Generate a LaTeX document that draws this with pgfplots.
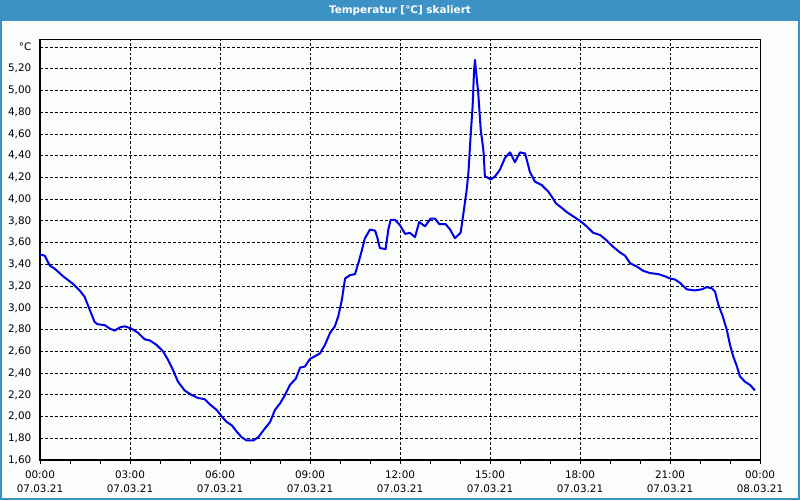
\documentclass[border=0pt]{standalone}
\usepackage{pgfplots}
\pgfplotsset{compat=1.18}
\usepackage{fontspec}
\setmainfont{DejaVu Sans}
\definecolor{framebl}{RGB}{60,146,196}
\definecolor{bgc}{RGB}{251,253,251}
\definecolor{curve}{RGB}{0,0,235}
\pgfplotstableread{
h v
0 3.49
0.16 3.48
0.32 3.39
0.49 3.36
0.77 3.29
1.1 3.22
1.32 3.16
1.49 3.10
1.66 2.98
1.82 2.87
1.91 2.85
2.16 2.84
2.32 2.81
2.49 2.79
2.66 2.82
2.82 2.83
3.04 2.81
3.27 2.77
3.49 2.71
3.66 2.70
3.88 2.66
4.1 2.60
4.27 2.52
4.43 2.43
4.6 2.32
4.82 2.24
5.04 2.20
5.27 2.17
5.49 2.16
5.67 2.11
5.89 2.06
6.06 2.00
6.22 1.95
6.39 1.92
6.56 1.86
6.72 1.81
6.89 1.78
7.11 1.78
7.28 1.81
7.44 1.87
7.67 1.95
7.83 2.06
8.0 2.12
8.17 2.20
8.33 2.29
8.53 2.35
8.67 2.45
8.83 2.46
9.0 2.53
9.33 2.58
9.5 2.66
9.67 2.77
9.83 2.83
9.94 2.92
10.06 3.07
10.17 3.27
10.33 3.30
10.5 3.31
10.61 3.41
10.72 3.52
10.83 3.64
11.0 3.72
11.17 3.71
11.24 3.65
11.33 3.55
11.52 3.54
11.61 3.72
11.69 3.81
11.83 3.81
12.0 3.76
12.17 3.68
12.33 3.69
12.5 3.65
12.64 3.79
12.83 3.75
13.02 3.82
13.17 3.82
13.31 3.77
13.52 3.77
13.67 3.72
13.83 3.64
14.02 3.69
14.13 3.90
14.22 4.08
14.28 4.24
14.36 4.61
14.42 4.85
14.47 5.19
14.5 5.28
14.54 5.16
14.61 4.97
14.69 4.64
14.78 4.45
14.83 4.21
14.91 4.20
15.02 4.18
15.17 4.21
15.33 4.27
15.5 4.38
15.67 4.43
15.83 4.34
16.0 4.43
16.17 4.42
16.33 4.25
16.5 4.16
16.72 4.13
16.94 4.07
17.09 4.01
17.2 3.96
17.39 3.92
17.56 3.88
17.78 3.84
18.0 3.80
18.22 3.75
18.44 3.69
18.67 3.67
18.89 3.62
19.11 3.56
19.33 3.51
19.5 3.48
19.67 3.41
19.89 3.38
20.11 3.34
20.33 3.32
20.61 3.31
20.83 3.29
21.0 3.27
21.17 3.26
21.33 3.23
21.56 3.17
21.83 3.16
22.06 3.17
22.22 3.19
22.39 3.18
22.5 3.15
22.61 3.03
22.76 2.92
22.89 2.80
23.0 2.66
23.11 2.55
23.22 2.47
23.33 2.37
23.5 2.32
23.67 2.29
23.83 2.24
}\temps
\begin{document}
\begin{tikzpicture}
\useasboundingbox (0,0) rectangle (600pt,375pt);
\fill[bgc] (0,0) rectangle (600pt,375pt);
\fill[framebl] (0,359.25pt) rectangle (600pt,375pt);
\draw[framebl, line width=1.5pt] (0.75pt,0.75pt) rectangle (599.25pt,374.25pt);
\node[text=white, font=\bfseries\fontsize{7.8}{9}\selectfont] at (300pt,367.3pt) {Temperatur [°C] skaliert};
\begin{axis}[
  at={(30pt,30pt)}, anchor=south west,
  scale only axis, width=540pt, height=315pt,
  xmin=0, xmax=24, ymin=1.6, ymax=5.464,
  axis background/.style={fill=bgc},
  axis line style={black, line width=0.75pt},
  xtick={0,3,...,24},
  minor xtick={1,2,4,5,7,8,10,11,13,14,16,17,19,20,22,23},
  xticklabels={{00:00\\07.03.21},{03:00\\07.03.21},{06:00\\07.03.21},{09:00\\07.03.21},{12:00\\07.03.21},{15:00\\07.03.21},{18:00\\07.03.21},{21:00\\07.03.21},{00:00\\08.03.21}},
  xticklabel style={align=center, font=\fontsize{7.8}{10.5}\selectfont, yshift=-1.8pt},
  ytick={1.6,1.8,2.0,2.2,2.4,2.6,2.8,3.0,3.2,3.4,3.6,3.8,4.0,4.2,4.4,4.6,4.8,5.0,5.2,5.4},
  yticklabels={{1,60},{1,80},{2,00},{2,20},{2,40},{2,60},{2,80},{3,00},{3,20},{3,40},{3,60},{3,80},{4,00},{4,20},{4,40},{4,60},{4,80},{5,00},{5,20},{°C}},
  yticklabel style={font=\fontsize{7.8}{9}\selectfont},
  tick align=outside,
  x tick style={black, line width=0.6pt},
  y tick style={draw=none},
  major tick length=3pt, minor tick length=3pt,
  xtick pos=bottom, ytick pos=left,
  grid=major,
  major grid style={black, line width=0.6pt, dash pattern=on 2.2pt off 1.5pt},
  clip=true,
]
\addplot[curve, line width=1.5pt, line join=round] table[x=h, y=v] {\temps};
\end{axis}
\end{tikzpicture}
\end{document}
